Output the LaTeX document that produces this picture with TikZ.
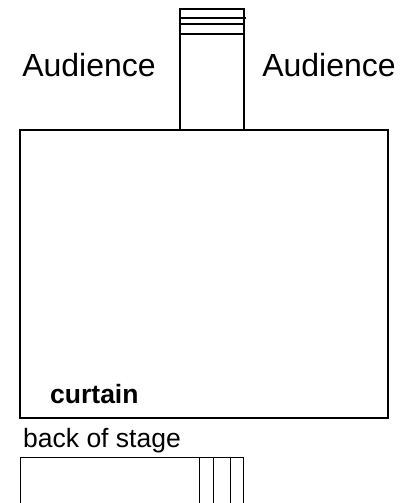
\documentclass[tikz,border=0pt]{standalone}
\usepackage{fontspec}
\setmainfont{Liberation Sans}
\begin{document}
\begin{tikzpicture}[
  x=1pt, y=-1pt,
  stage/.style={draw, line width=2.8pt},
  runway/.style={draw, line width=1.6pt},
  wing/.style={draw, line width=1pt},
  lbl/.style={font=\fontsize{32}{32}\selectfont, inner sep=0pt, anchor=base},
  sublbl/.style={font=\fontsize{26.5}{26.5}\selectfont, inner sep=0pt, anchor=base west}
]
  \useasboundingbox (0,0) rectangle (417,503);

  % --- runway into the audience ---
  \draw[runway] (180,130) -- (180,9) -- (244,9) -- (244,130);
  \draw[runway] (180,18) -- (246,18);
  \draw[runway] (180,24) -- (244,24);
  \draw[runway] (180,34) -- (244,34);

  % --- audience ---
  \node[lbl] (audl) at (89,77) {Audience};
  \node[lbl] (audr) at (329,77) {Audience};

  % --- stage ---
  \draw[stage] (20,130) rectangle (388,418);
  \node[sublbl, font=\fontsize{26.5}{26.5}\selectfont\bfseries] (curt) at (50,403) {curtain};
  \node[sublbl] (back) at (23,447) {back of stage};

  % --- backstage ---
  \draw[wing] (20,503) -- (20,457) -- (243,457) -- (243,503);
  \foreach \xx in {199,213,230}
    \draw[wing] (\xx,457) -- (\xx,503);
\end{tikzpicture}
\end{document}
